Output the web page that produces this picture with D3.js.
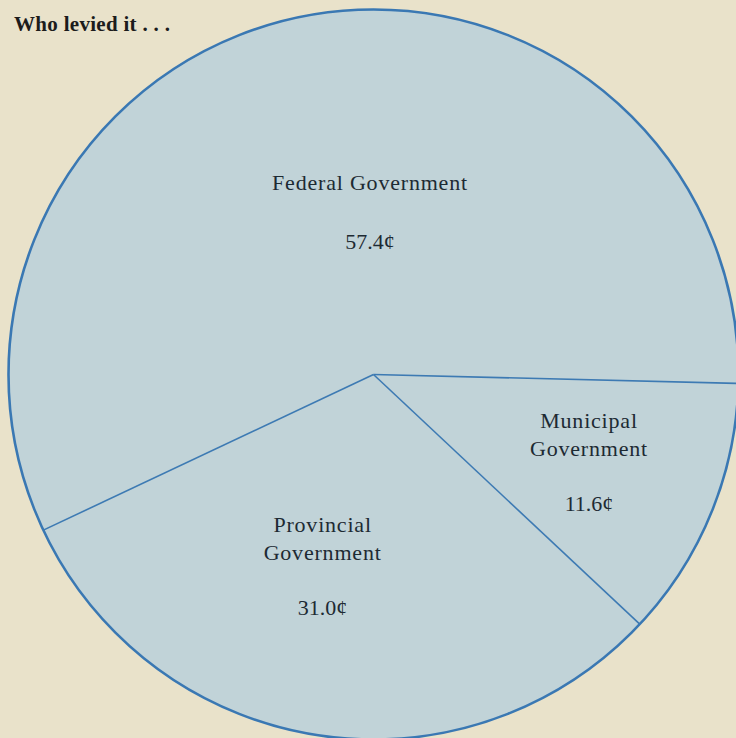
<!DOCTYPE html>
<html>
<head>
<meta charset="utf-8">
<script src="https://cdn.jsdelivr.net/npm/d3@7"></script>
<style>
  html, body { margin: 0; padding: 0; background: #e9e2ca; }
  svg { display: block; }
</style>
</head>
<body>
<div id="chart"></div>
<script>
// Where each tax dollar went, by level of government (cents per dollar)
const levels = ["Municipal", "Provincial", "Federal"];
const cents = [11.6, 31.0, 57.4];
const labelLines = [["Municipal", "Government"], ["Provincial", "Government"], ["Federal Government"]];
const valueLabels = ["11.6¢", "31.0¢", "57.4¢"];
const title = "Who levied it . . .";

const W = 736, H = 738;
const cx = 373.5, cy = 374.5, R = 365;

// Pie starts just below the 3 o'clock position and runs clockwise
const startDeg = 91.4;

// Anchor of each label's first baseline (polar, relative to the centre)
const labelLayout = [
  { angle: 103.9, r: 222, lineGap: 28, valueGap: 55 },
  { angle: 197.9, r: 165.6, lineGap: 28, valueGap: 55 },
  { angle: -1.1, r: 184.5, lineGap: 28, valueGap: 59 }
];

const svg = d3.select("#chart").append("svg")
  .attr("width", W).attr("height", H);

svg.append("rect").attr("width", W).attr("height", H).attr("fill", "#e9e2ca");

const g = svg.append("g").attr("transform", `translate(${cx},${cy})`);

const rad = d => d * Math.PI / 180;

const pie = d3.pie()
  .sort(null)
  .value(d => d)
  .startAngle(rad(startDeg))
  .endAngle(rad(startDeg + 360));

const arcs = pie(cents);
const arc = d3.arc().innerRadius(0).outerRadius(R);

// slices
g.selectAll("path.slice").data(arcs).join("path")
  .attr("class", "slice")
  .attr("d", arc)
  .attr("fill", "#c1d3d8")
  .attr("stroke", "#c1d3d8")
  .attr("stroke-width", 0.5);

// dividing lines between slices
g.selectAll("line.divider").data(arcs).join("line")
  .attr("class", "divider")
  .attr("x1", 0).attr("y1", 0)
  .attr("x2", d => R * Math.sin(d.startAngle))
  .attr("y2", d => -R * Math.cos(d.startAngle))
  .attr("stroke", "#3d7ab3")
  .attr("stroke-width", 1.6);

// outer rim
g.append("circle")
  .attr("r", R)
  .attr("fill", "none")
  .attr("stroke", "#3a78b3")
  .attr("stroke-width", 2.6);

// slice labels
const font = "'Liberation Serif', 'Times New Roman', serif";
arcs.forEach((a, i) => {
  const L = labelLayout[i];
  const x = L.r * Math.sin(rad(L.angle));
  const y = -L.r * Math.cos(rad(L.angle));
  const lines = labelLines[i];
  const n = lines.length;
  lines.forEach((t, j) => {
    g.append("text")
      .attr("x", x).attr("y", y + j * L.lineGap)
      .attr("text-anchor", "middle")
      .attr("font-family", font)
      .attr("font-size", 22)
      .attr("letter-spacing", 0.8)
      .attr("fill", "#1d2a33")
      .text(t);
  });
  g.append("text")
    .attr("x", x).attr("y", y + (n - 1) * L.lineGap + L.valueGap)
    .attr("text-anchor", "middle")
    .attr("font-family", font)
    .attr("font-size", 22)
    .attr("fill", "#1d2a33")
    .text(valueLabels[i]);
});

// heading
svg.append("text")
  .attr("x", 14).attr("y", 31)
  .attr("font-family", font)
  .attr("font-weight", "bold")
  .attr("font-size", 21)
  .attr("letter-spacing", 0.3)
  .attr("fill", "#1c1c1c")
  .text(title);
</script>
</body>
</html>
